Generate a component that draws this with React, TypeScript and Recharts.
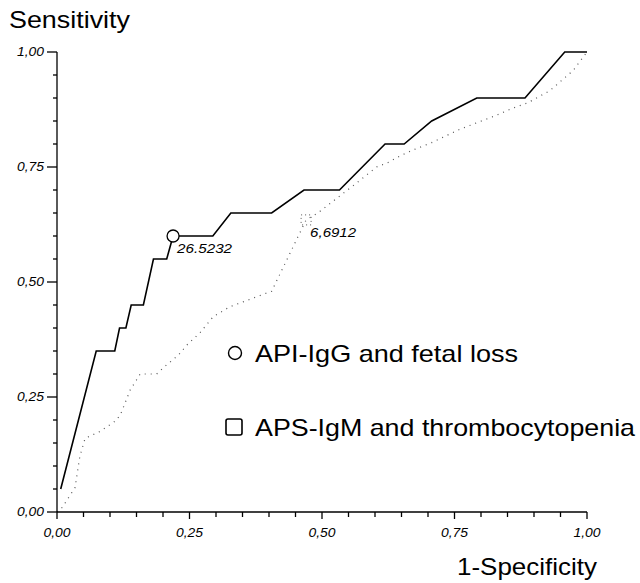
import React from "react";
import { LineChart, Line, XAxis, YAxis, Legend } from "recharts";

// API-IgG and fetal loss (solid)
const apiFpr = [0.007, 0.074, 0.109, 0.118, 0.13, 0.14, 0.163, 0.182, 0.207, 0.219, 0.294, 0.328, 0.405, 0.466, 0.533, 0.619, 0.655, 0.707, 0.792, 0.883, 0.958, 1.0];
const apiTpr = [0.05, 0.35, 0.35, 0.40, 0.40, 0.45, 0.45, 0.55, 0.55, 0.60, 0.60, 0.65, 0.65, 0.70, 0.70, 0.80, 0.80, 0.85, 0.90, 0.90, 1.0, 1.0];
const apiCutIndex = 9;
const apiCutLabel = "26.5232";

// APS-IgM and thrombocytopenia (dotted)
const apsFpr = [0, 0.01, 0.025, 0.034, 0.043, 0.053, 0.081, 0.113, 0.122, 0.138, 0.157, 0.188, 0.204, 0.229, 0.245, 0.27, 0.295, 0.326, 0.37, 0.405, 0.47, 0.492, 0.565, 0.603, 0.625, 0.647, 0.672, 0.707, 0.76, 0.826, 0.858, 0.889, 0.93, 0.974, 1.0];
const apsTpr = [0, 0.01, 0.037, 0.053, 0.12, 0.16, 0.175, 0.20, 0.218, 0.265, 0.30, 0.30, 0.317, 0.341, 0.363, 0.39, 0.425, 0.446, 0.465, 0.48, 0.635, 0.65, 0.715, 0.75, 0.76, 0.774, 0.787, 0.803, 0.832, 0.861, 0.877, 0.89, 0.916, 0.96, 1.0];
const apsCutIndex = 20;
const apsCutLabel = "6,6912";

const axisTicks = [0, 0.05, 0.1, 0.15, 0.2, 0.25, 0.3, 0.35, 0.4, 0.45, 0.5, 0.55, 0.6, 0.65, 0.7, 0.75, 0.8, 0.85, 0.9, 0.95, 1.0];
const majorTicks = [0, 0.25, 0.5, 0.75, 1.0];

const legendNames = ["API-IgG and fetal loss", "APS-IgM and thrombocytopenia"];

const apiData = apiFpr.map((x, i) => ({ x, y: apiTpr[i] }));
const apsData = apsFpr.map((x, i) => ({ x, y: apsTpr[i] }));

const FONT = "'Liberation Sans', Arial, sans-serif";

const isMajor = (v: number) => majorTicks.some((m) => Math.abs(m - v) < 1e-6);
const fmt = (v: number) => v.toFixed(2).replace(".", ",");

const XTick = (props: any) => {
  const { x, y, payload } = props;
  const major = isMajor(payload.value);
  return (
    <g>
      <line x1={x} y1={y} x2={x} y2={y + (major ? 7 : 5)} stroke="#000" strokeWidth={1.3} />
      {major && (
        <text x={x} y={y + 25} textAnchor="middle" fontSize={12} fontStyle="italic" fontFamily={FONT} fill="#000" textLength={27} lengthAdjust="spacingAndGlyphs">
          {fmt(payload.value)}
        </text>
      )}
    </g>
  );
};

const YTick = (props: any) => {
  const { x, y, payload } = props;
  const major = isMajor(payload.value);
  return (
    <g>
      <line x1={x - (major ? 10 : 4)} y1={y} x2={x} y2={y} stroke="#000" strokeWidth={1.3} />
      {major && (
        <text x={x - 40} y={y + 4} fontSize={12} fontStyle="italic" fontFamily={FONT} fill="#000" textLength={27} lengthAdjust="spacingAndGlyphs">
          {fmt(payload.value)}
        </text>
      )}
    </g>
  );
};

const cutDot = (cutIndex: number, label: string, square: boolean, len: number) => (props: any) => {
  const { cx, cy, index } = props;
  if (index !== cutIndex) return <g key={`d-${index}`} />;
  return (
    <g key={`d-${index}`}>
      {square ? (
        <rect x={cx - 5} y={cy - 5} width={10} height={10} fill="none" stroke="#555" strokeWidth={1} strokeDasharray="1 3" />
      ) : (
        <circle cx={cx} cy={cy} r={6} fill="#fff" stroke="#000" strokeWidth={1.3} />
      )}
      <text x={cx + 4} y={cy + 17} fontSize={13} fontStyle="italic" fontFamily={FONT} fill="#000" textLength={len} lengthAdjust="spacingAndGlyphs">
        {label}
      </text>
    </g>
  );
};

const LegendBox = () => (
  <svg width={418} height={110}>
    <circle cx={13} cy={18} r={6.5} fill="none" stroke="#000" strokeWidth={1.4} />
    <text x={33} y={27} fontSize={24} fontFamily={FONT} fill="#000" textLength={263} lengthAdjust="spacingAndGlyphs">
      {legendNames[0]}
    </text>
    <rect x={4} y={84} width={16} height={16} rx={2} fill="#fff" stroke="#000" strokeWidth={1.6} />
    <text x={33} y={101} fontSize={24} fontFamily={FONT} fill="#000" textLength={380} lengthAdjust="spacingAndGlyphs">
      {legendNames[1]}
    </text>
  </svg>
);

export default function App() {
  return (
    <div style={{ position: "absolute", left: 0, top: 0, width: 640, height: 583, background: "#fff" }}>
      <LineChart width={640} height={583} margin={{ top: 52, right: 53, left: 0, bottom: 41 }}>
        <XAxis
          dataKey="x"
          type="number"
          domain={[0, 1]}
          ticks={axisTicks}
          tick={<XTick />}
          tickLine={false}
          tickSize={0}
          tickMargin={0}
          height={30}
          stroke="#000"
          strokeWidth={1.3}
          allowDuplicatedCategory={false}
          interval={0}
        />
        <YAxis
          dataKey="y"
          type="number"
          domain={[0, 1]}
          ticks={axisTicks}
          tick={<YTick />}
          tickLine={false}
          tickSize={0}
          tickMargin={0}
          width={57}
          stroke="#000"
          strokeWidth={1.3}
          interval={0}
        />
        <Legend
          layout="vertical"
          align="center"
          verticalAlign="middle"
          wrapperStyle={{ position: "absolute", left: 222, top: 335, width: 418 }}
          content={() => <LegendBox />}
        />
        <Line
          data={apsData}
          dataKey="y"
          name={legendNames[1]}
          type="linear"
          stroke="#555"
          strokeWidth={1.2}
          strokeDasharray="1 5"
          dot={cutDot(apsCutIndex, apsCutLabel, true, 46)}
          activeDot={false}
          isAnimationActive={false}
        />
        <Line
          data={apiData}
          dataKey="y"
          name={legendNames[0]}
          type="linear"
          stroke="#000"
          strokeWidth={1.6}
          dot={cutDot(apiCutIndex, apiCutLabel, false, 55)}
          activeDot={false}
          isAnimationActive={false}
        />
      </LineChart>
      <svg width={640} height={583} style={{ position: "absolute", left: 0, top: 0, pointerEvents: "none" }}>
        <text x={9} y={28} fontSize={24} fontFamily={FONT} fill="#000" textLength={121} lengthAdjust="spacingAndGlyphs">
          Sensitivity
        </text>
        <text x={457} y={575} fontSize={24} fontFamily={FONT} fill="#000" textLength={140} lengthAdjust="spacingAndGlyphs">
          1-Specificity
        </text>
      </svg>
    </div>
  );
}
